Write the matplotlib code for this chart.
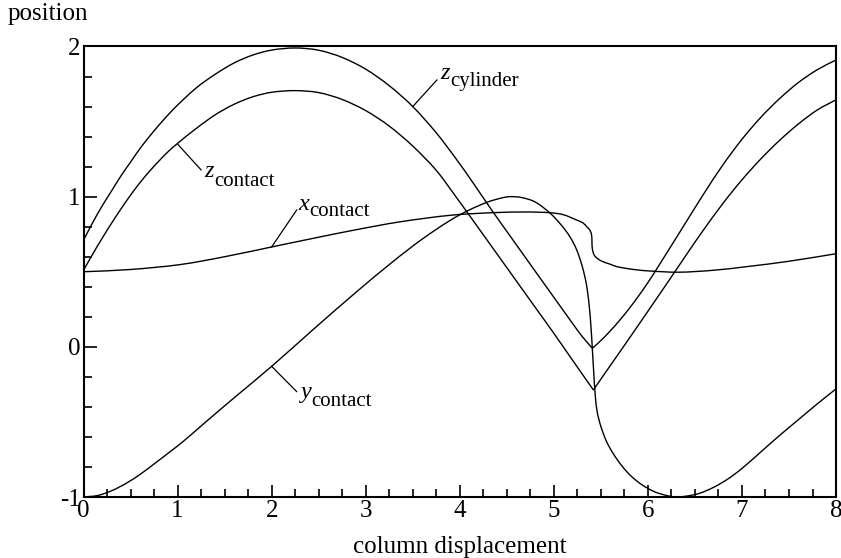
import matplotlib
matplotlib.use("Agg")
import numpy as np
import matplotlib.pyplot as plt
from matplotlib.path import Path
from matplotlib.patches import PathPatch
from matplotlib.ticker import MultipleLocator

plt.rcParams["font.family"] = ["Liberation Serif", "DejaVu Serif"]
plt.rcParams["axes.unicode_minus"] = False

# values
zcyl_x = [0.00, 0.10, 0.20, 0.30, 0.40, 0.50, 0.60, 0.70, 0.80, 0.90, 1.00, 1.20, 1.40, 1.60,
          1.80, 2.00, 2.25, 2.50, 2.75, 3.00, 3.25, 3.50, 3.75, 3.97, 4.15, 4.34, 4.55, 4.80,
          5.00, 5.20, 5.30, 5.41, 5.50, 5.60, 5.70, 5.80, 5.90, 6.00, 6.10, 6.36, 6.60, 6.80,
          7.00, 7.20, 7.40, 7.60, 7.80, 8.00]
zcyl_y = [0.71, 0.83, 0.94, 1.04, 1.14, 1.23, 1.32, 1.40, 1.475, 1.545, 1.61, 1.725, 1.815, 1.89,
          1.943, 1.976, 1.99, 1.975, 1.927, 1.849, 1.739, 1.60, 1.425, 1.244, 1.084, 0.91, 0.725,
          0.505, 0.33, 0.155, 0.07, -0.01, 0.042, 0.106, 0.177, 0.254, 0.338, 0.428, 0.525,
          0.785, 1.025, 1.214, 1.382, 1.528, 1.653, 1.76, 1.845, 1.91]

zcon_x = [0.00, 0.10, 0.20, 0.30, 0.40, 0.50, 0.60, 0.70, 0.80, 0.90, 1.00, 1.20, 1.40, 1.60,
          1.80, 2.00, 2.25, 2.50, 2.75, 3.00, 3.25, 3.50, 3.75, 3.97, 4.20, 4.40, 4.60, 4.80,
          5.00, 5.20, 5.42, 5.60, 5.80, 6.00, 6.20, 6.40, 6.57, 6.80, 7.00, 7.20, 7.40, 7.60,
          7.80, 8.00]
zcon_y = [0.51, 0.62, 0.725, 0.825, 0.92, 1.01, 1.093, 1.168, 1.236, 1.30, 1.355, 1.455, 1.545,
          1.615, 1.665, 1.695, 1.706, 1.693, 1.647, 1.573, 1.47, 1.337, 1.175, 0.99, 0.79, 0.615,
          0.44, 0.265, 0.09, -0.09, -0.287, -0.125, 0.055, 0.237, 0.42, 0.605, 0.76, 0.957,
          1.112, 1.251, 1.375, 1.484, 1.577, 1.645]

xcon_x = [0.00, 0.50, 1.03, 1.50, 2.00, 2.50, 2.90, 3.36, 3.90, 4.34, 4.70, 4.96, 5.10, 5.24,
          5.31, 5.35, 5.38, 5.40, 5.405, 5.41, 5.43, 5.47, 5.53, 5.60, 5.67, 5.85, 6.02, 6.33,
          6.70, 7.05, 7.50, 8.00]
xcon_y = [0.50, 0.515, 0.548, 0.60, 0.665, 0.73, 0.78, 0.832, 0.876, 0.893, 0.898, 0.893, 0.88,
          0.845, 0.825, 0.80, 0.78, 0.75, 0.70, 0.65, 0.61, 0.585, 0.565, 0.55, 0.534, 0.515,
          0.505, 0.497, 0.51, 0.534, 0.57, 0.62]

ycon_x = [0.00, 0.15, 0.30, 0.45, 0.60, 0.75, 0.90, 1.05, 1.30, 1.60, 2.00, 2.45, 2.90, 3.30,
          3.60, 3.90, 4.10, 4.30, 4.45, 4.53, 4.65, 4.80, 4.96, 5.08, 5.17, 5.24, 5.30, 5.345,
          5.375, 5.395, 5.41, 5.425, 5.44, 5.46, 5.50, 5.56, 5.63, 5.72, 5.82, 5.94, 6.07, 6.20,
          6.30, 6.42, 6.55, 6.70, 6.85, 7.00, 7.20, 7.40, 7.60, 7.80, 8.00]
ycon_y = [-1.00, -0.99, -0.958, -0.91, -0.85, -0.78, -0.708, -0.635, -0.50, -0.34, -0.13, 0.12,
          0.365, 0.573, 0.717, 0.843, 0.911, 0.965, 0.992, 1.00, 0.995, 0.965, 0.89, 0.81, 0.734,
          0.65, 0.54, 0.42, 0.28, 0.13, -0.02, -0.18, -0.32, -0.43, -0.53, -0.63, -0.71, -0.79,
          -0.86, -0.92, -0.965, -0.99, -1.00, -0.993, -0.975, -0.935, -0.88, -0.81, -0.70,
          -0.59, -0.485, -0.38, -0.28]

# index of the sharp corners (cusps) in each curve
curves = [(zcyl_x, zcyl_y, [31]), (zcon_x, zcon_y, [30]),
          (xcon_x, xcon_y, []), (ycon_x, ycon_y, [])]

# (letter, subscript, point on curve, end of leader, text baseline start, subscript drop in pt)
labels = [
    ("z", "cylinder", (3.50, 1.60), (3.757, 1.777), (3.79, 1.785), 5.5),
    ("z", "contact", (1.00, 1.35), (1.25, 1.178), (1.28, 1.129), 6.5),
    ("x", "contact", (2.00, 0.665), (2.266, 0.911), (2.283, 0.911), 5.0),
    ("y", "contact", (2.00, -0.13), (2.266, -0.298), (2.30, -0.34), 6.5),
]


def bezier_path(xs, ys, cusps, yscale=1.6):
    # smooth drawing through the read points (chord-length Catmull-Rom as cubic Beziers)
    verts, codes = [], []
    bounds = [0] + list(cusps) + [len(xs) - 1]
    for a, b in zip(bounds[:-1], bounds[1:]):
        p = np.column_stack([xs[a:b + 1], ys[a:b + 1]]).astype(float)
        q = p * [1.0, yscale]
        d = np.hypot(*np.diff(q, axis=0).T)
        n = len(p)
        tang = np.zeros_like(p)
        for i in range(n):
            if i == 0:
                tang[i] = (p[1] - p[0]) / d[0]
            elif i == n - 1:
                tang[i] = (p[-1] - p[-2]) / d[-1]
            else:
                tang[i] = (p[i + 1] - p[i - 1]) / (d[i - 1] + d[i])
        if a == 0:
            verts.append(p[0])
            codes.append(Path.MOVETO)
        for i in range(n - 1):
            verts += [p[i] + tang[i] * d[i] / 3, p[i + 1] - tang[i + 1] * d[i] / 3, p[i + 1]]
            codes += [Path.CURVE4] * 3
    return Path(verts, codes)


fig = plt.figure(figsize=(8.41, 5.58), dpi=100)
ax = fig.add_axes([0.0993, 0.1093, 0.8948, 0.8074])

for xs, ys, cusps in curves:
    ax.add_patch(PathPatch(bezier_path(xs, ys, cusps), facecolor="none",
                           edgecolor="black", lw=1.0))

for letter, sub, p0, p1, pt, drop in labels:
    ax.plot([p0[0], p1[0]], [p0[1], p1[1]], color="black", lw=0.9)
    t = ax.text(pt[0], pt[1], letter, fontsize=17.5, fontstyle="italic",
                ha="left", va="baseline")
    ax.annotate(sub, xy=(1, 0), xycoords=t, xytext=(0.3, 4.0 - drop),
                textcoords="offset points", fontsize=15, ha="left", va="baseline")

ax.set_xlim(0, 8)
ax.set_ylim(-1, 2)
ax.xaxis.set_major_locator(MultipleLocator(1))
ax.xaxis.set_minor_locator(MultipleLocator(0.25))
ax.yaxis.set_major_locator(MultipleLocator(1))
ax.yaxis.set_minor_locator(MultipleLocator(0.2))
ax.tick_params(which="both", direction="in", top=False, right=False, width=1.2,
               labelsize=18)
ax.tick_params(which="major", length=9, pad=2)
ax.tick_params(which="minor", length=5.5)
for s in ax.spines.values():
    s.set_linewidth(1.5)

ax.set_xlabel("column displacement", fontsize=18, labelpad=10)
fig.text(0.0095, 0.995, "position", fontsize=18, ha="left", va="top")

fig.savefig("out.png", dpi=100)
